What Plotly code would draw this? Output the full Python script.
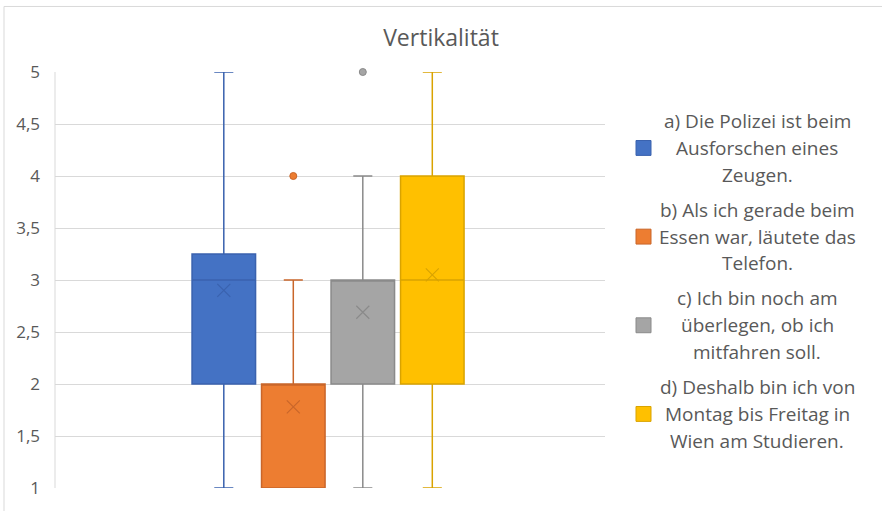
import plotly.graph_objects as go

# ---- data ----
series_names = [
    ["a) Die Polizei ist beim", "Ausforschen eines", "Zeugen."],
    ["b) Als ich gerade beim", "Essen war, läutete das", "Telefon."],
    ["c) Ich bin noch am", "überlegen, ob ich", "mitfahren soll."],
    ["d) Deshalb bin ich von", "Montag bis Freitag in", "Wien am Studieren."],
]
q1 = [2, 1, 2, 2]
median = [3, 2, 3, 3]
q3 = [3.25, 2, 3, 4]
lower_whisker = [1, 1, 1, 1]
upper_whisker = [5, 3, 4, 5]
means = [2.9, 1.78, 2.69, 3.05]
outliers = [[], [4], [5], []]
y_ticks = [1, 1.5, 2, 2.5, 3, 3.5, 4, 4.5, 5]
y_tick_labels = ["1", "1,5", "2", "2,5", "3", "3,5", "4", "4,5", "5"]
title = "Vertikalität"

# ---- styles ----
fills = ["#4472C4", "#ED7D31", "#A5A5A5", "#FFC000"]
lines = ["#3A62AE", "#C9662A", "#8A8A8A", "#D9A300"]
positions = [0, 1, 2, 3]
text_color = "#595959"
font_family = "Open Sans"

W, H = 882, 511
L, R, T, B = 55, 277, 72, 20
pw, ph = W - L - R, H - T - B


def px_to_paper_x(px):
    return (px - L) / pw


def px_to_paper_y(py):
    return (H - B - py) / ph


fig = go.Figure()
for i in range(4):
    fig.add_trace(go.Box(
        x=[positions[i]], q1=[q1[i]], median=[median[i]], q3=[q3[i]],
        lowerfence=[lower_whisker[i]], upperfence=[upper_whisker[i]],
        fillcolor=fills[i], line=dict(color=lines[i], width=1.5),
        width=0.914, whiskerwidth=0.3, boxpoints=False,
        showlegend=False, hoverinfo="skip",
    ))
    fig.add_trace(go.Scatter(
        x=[positions[i]], y=[means[i]], mode="markers",
        marker=dict(symbol="x-thin-open", size=13, color=lines[i],
                    line=dict(color=lines[i], width=1.2)),
        showlegend=False, hoverinfo="skip", cliponaxis=False,
    ))
    if outliers[i]:
        fig.add_trace(go.Scatter(
            x=[positions[i]] * len(outliers[i]), y=outliers[i], mode="markers",
            marker=dict(symbol="circle", size=7, color=fills[i],
                        line=dict(color=lines[i], width=1)),
            showlegend=False, hoverinfo="skip", cliponaxis=False,
        ))

# legend drawn manually (centered multi-line text)
annotations = []
shapes = []
for i, name_lines in enumerate(series_names):
    yc = 148.5 + 89.3 * i
    shapes.append(dict(
        type="rect", xref="paper", yref="paper",
        x0=px_to_paper_x(636), x1=px_to_paper_x(651),
        y0=px_to_paper_y(yc + 7.5), y1=px_to_paper_y(yc - 7.5),
        fillcolor=fills[i], line=dict(color=lines[i], width=1),
    ))
    for j, txt in enumerate(name_lines):
        annotations.append(dict(
            text=txt, xref="paper", yref="paper",
            x=px_to_paper_x(757), y=px_to_paper_y(yc + 27 * (j - 1)),
            xanchor="center", yanchor="middle", showarrow=False,
            font=dict(size=19, color=text_color, family=font_family),
        ))

# chart border
shapes.append(dict(
    type="rect", xref="paper", yref="paper",
    x0=px_to_paper_x(4), x1=px_to_paper_x(W + 10),
    y0=px_to_paper_y(H + 10), y1=px_to_paper_y(6),
    line=dict(color="#d9d9d9", width=1), fillcolor="rgba(0,0,0,0)",
    layer="below",
))
# left vertical line of plot area
shapes.append(dict(
    type="line", xref="paper", yref="paper",
    x0=0, x1=0, y0=0, y1=1,
    line=dict(color="#d9d9d9", width=1), layer="below",
))

fig.update_layout(
    width=W, height=H, autosize=False,
    margin=dict(l=L, r=R, t=T, b=B),
    paper_bgcolor="white", plot_bgcolor="white",
    title=dict(text=title, x=0.5, xanchor="center",
               y=1 - 38 / H, yanchor="middle", yref="container",
               font=dict(size=23, color=text_color, family=font_family)),
    font=dict(family=font_family, color=text_color),
    xaxis=dict(range=[(L - 223.8) / 69.5, (W - R - 223.8) / 69.5],
               showgrid=False, zeroline=False, showticklabels=False,
               showline=False, fixedrange=True),
    yaxis=dict(range=[1, 5], tickvals=y_ticks, ticktext=y_tick_labels,
               showgrid=True, gridcolor="#d9d9d9", gridwidth=1,
               zeroline=False, showline=False, ticks="",
               ticklabelstandoff=14,
               tickfont=dict(size=17, color=text_color, family=font_family)),
    annotations=annotations, shapes=shapes,
    showlegend=False,
)
fig.update_layout(title_xref="container")

fig.write_html("out.html", post_script="document.body.style.margin='0';",
               config={"displayModeBar": False})
